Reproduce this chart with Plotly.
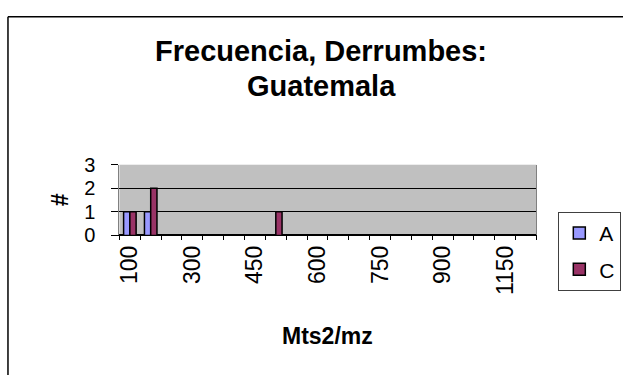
import plotly.graph_objects as go

categories = ["100", "150", "200", "300", "350", "400", "450", "500", "550", "600",
              "650", "700", "750", "800", "850", "900", "1000", "1050", "1150", "1200"]
series_a = [1, 1, None, None, None, None, None, None, None, None,
            None, None, None, None, None, None, None, None, None, None]
series_c = [1, 2, None, None, None, None, None, 1, None, None,
            None, None, None, None, None, None, None, None, None, None]
shown_labels = ["100", "300", "450", "600", "750", "900", "1150"]
y_ticks = [0, 1, 2, 3]

W, H = 623, 386
px_l, px_r, px_t, px_b = 117, 536, 163, 238

fig = go.Figure()
fig.add_bar(x=categories, y=series_a, name="A", legendgroup="a",
            marker=dict(color="#9999FF", line=dict(color="black", width=1.5)))
fig.add_bar(x=categories, y=series_c, name="C", legendgroup="c",
            marker=dict(color="#993366", line=dict(color="black", width=1.5)))

ticktext = [c if c in shown_labels else "" for c in categories]

fig.update_layout(
    width=W, height=H,
    margin=dict(l=0, r=0, t=0, b=0),
    paper_bgcolor="white",
    plot_bgcolor="#C0C0C0",
    font=dict(family="Liberation Sans, Arial", color="black", size=22),
    barmode="group",
    bargap=0.4,
    bargroupgap=0,
    showlegend=True,
    legend=dict(x=558 / W, y=1 - 213 / H, xanchor="left", yanchor="top",
                bordercolor="#404040", borderwidth=1, bgcolor="white",
                font=dict(size=21), itemwidth=30, tracegroupgap=6),
    xaxis=dict(domain=[px_l / W, px_r / W], type="category",
               categoryorder="array", categoryarray=categories,
               tickmode="array", tickvals=categories, ticktext=ticktext,
               tickangle=-90, ticks="outside", ticklen=4, tickcolor="black",
               tickson="boundaries", showgrid=False,
               showline=True, linecolor="black", linewidth=1, mirror=False,
               tickfont=dict(size=23)),
    yaxis=dict(domain=[1 - px_b / H, 1 - px_t / H], range=[0, 3],
               tickvals=y_ticks, ticks="outside", ticklen=7, tickcolor="black",
               showgrid=True, gridcolor="black", gridwidth=1,
               zeroline=True, zerolinecolor="black",
               showline=True, linecolor="#808080", linewidth=1, mirror=True,
               tickfont=dict(size=20), ticklabelstandoff=12),
    shapes=[
        dict(type="line", xref="paper", yref="paper",
             x0=5 / W, x1=1, y0=1 - 6 / H, y1=1 - 6 / H,
             line=dict(color="black", width=1.5)),
        dict(type="line", xref="paper", yref="paper",
             x0=5 / W, x1=5 / W, y0=0, y1=1 - 6 / H,
             line=dict(color="black", width=1.5)),
    ],
    annotations=[
        dict(text="<b>Frecuencia, Derrumbes:</b>", x=320 / W, y=1 - 42 / H,
             xref="paper", yref="paper", showarrow=False,
             xanchor="center", yanchor="middle", font=dict(size=29)),
        dict(text="<b>Guatemala</b>", x=320 / W, y=1 - 80 / H,
             xref="paper", yref="paper", showarrow=False,
             xanchor="center", yanchor="middle", font=dict(size=29)),
        dict(text="<b>Mts2/mz</b>", x=326 / W, y=1 - 345 / H,
             xref="paper", yref="paper", showarrow=False,
             xanchor="center", yanchor="middle", font=dict(size=23)),
        dict(text="<b>#</b>", x=57 / W, y=1 - 200 / H, textangle=-90,
             xref="paper", yref="paper", showarrow=False,
             xanchor="center", yanchor="middle", font=dict(size=23)),
    ],
)

fig.write_html("out.html")
